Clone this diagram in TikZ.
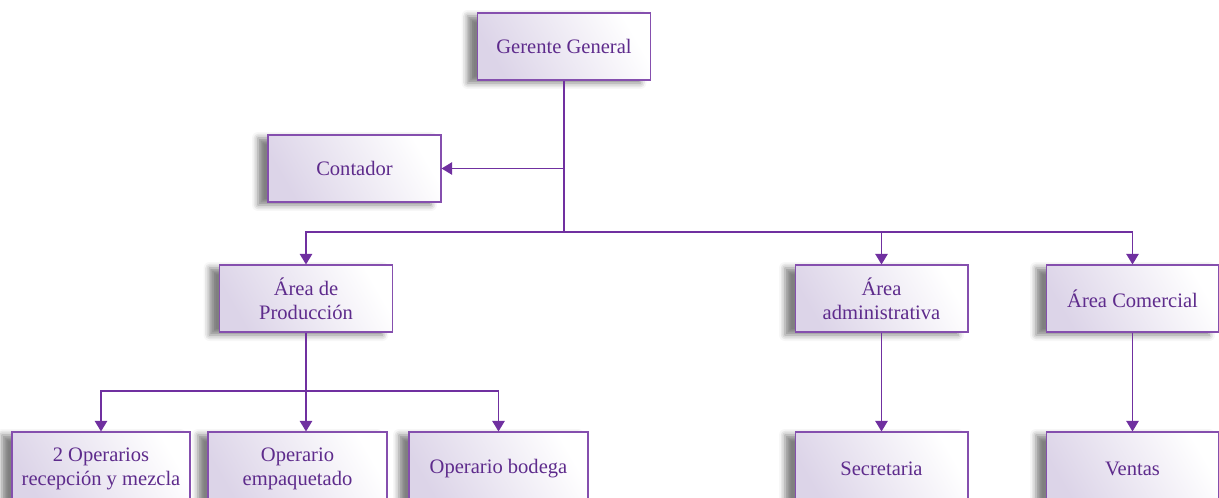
\documentclass[tikz,border=0pt]{standalone}
\usepackage{fontspec}
\setmainfont{Liberation Serif}
\newfontfamily\orgfont{Liberation Serif}
\usetikzlibrary{arrows.meta,shadows.blur}
\definecolor{orgline}{HTML}{7030A0}
\definecolor{orgtext}{HTML}{5E2B8C}
\definecolor{orgfill}{HTML}{DCD4E8}
\tikzset{
  orgbox/.style={draw=orgline!85, line width=0.6pt, left color=orgfill, right color=white,
    shading angle=120, text=orgtext, align=center, minimum width=3.46cm, minimum height=1.34cm,
    font=\orgfont\fontsize{11.7}{13.6}\selectfont,
    blur shadow={shadow xshift=-0.2cm, shadow yshift=-0.06cm, shadow blur radius=0.12cm, shadow opacity=50}},
  conn/.style={draw=orgline, line width=0.9pt},
  tip/.style={conn, -{Triangle[width=7pt,length=6pt]}}
}
\begin{document}
\begin{tikzpicture}[x=0.02cm,y=-0.02cm]
\useasboundingbox (0,0) rectangle (1219,497);
% boxes
\node[orgbox] (gg) at (564,46.5) {Gerente General};
\node[orgbox] (cont) at (354.5,168.5) {Contador};
\node[orgbox] (prod) at (306,298.5) {Área de\\Producción};
\node[orgbox] (adm) at (881.5,298.5) {Área\\administrativa};
\node[orgbox] (com) at (1132.5,298.5) {Área Comercial};
\node[orgbox, minimum width=3.56cm, minimum height=1.48cm] (op1) at (101,469) {2 Operarios\\recepción y mezcla};
\node[orgbox, minimum width=3.58cm, minimum height=1.48cm] (op2) at (297.5,469) {Operario\\empaquetado};
\node[orgbox, minimum width=3.58cm, minimum height=1.48cm] (op3) at (498.5,469) {Operario bodega};
\node[orgbox, minimum height=1.48cm] (sec) at (881.5,469) {Secretaria};
\node[orgbox, minimum height=1.48cm] (ven) at (1132.5,469) {Ventas};
% connectors
\draw[conn] (gg.south) -- (gg.south |- 0,232) coordinate (bus);
\draw[tip] (gg.south |- cont.east) -- (cont.east);
\draw[tip] (bus) -| (prod.north);
\draw[tip] (bus) -| (adm.north);
\draw[tip] (bus) -| (com.north);
\draw[conn] (prod.south) -- (prod.south |- 0,391) coordinate (pbus);
\draw[tip] (pbus) -| (op1.north);
\draw[tip] (pbus) -- (op2.north -| pbus);
\draw[tip] (pbus) -| (op3.north);
\draw[tip] (adm.south) -- (sec.north);
\draw[tip] (com.south) -- (ven.north);
\end{tikzpicture}
\end{document}
